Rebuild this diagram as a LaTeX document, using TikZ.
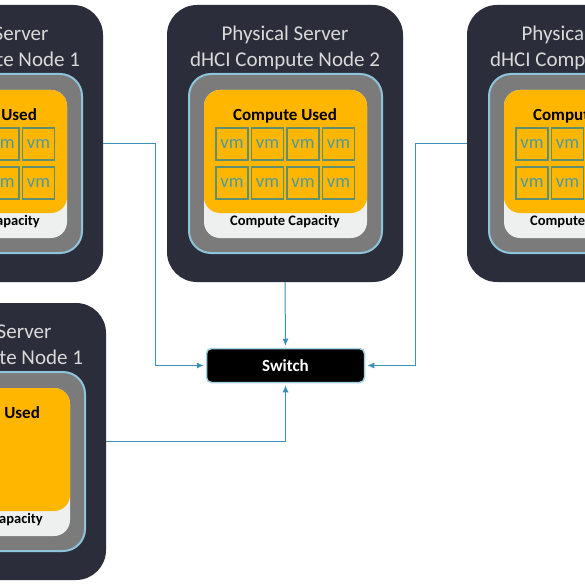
\documentclass[tikz,border=0pt]{standalone}
\usepackage{fontspec}
\setmainfont{Carlito}
\usetikzlibrary{arrows.meta}
\definecolor{srvdark}{HTML}{2B2E3A}
\definecolor{srvtext}{HTML}{D9D9D9}
\definecolor{bandgray}{HTML}{7B7B7B}
\definecolor{bandblue}{HTML}{8EC4DA}
\definecolor{capwhite}{HTML}{EEF0F0}
\definecolor{usedorange}{HTML}{FFB600}
\definecolor{vmgreen}{HTML}{5E8F6E}
\definecolor{vmteal}{HTML}{4A9AA3}
\definecolor{linkblue}{HTML}{3D91B8}
\begin{document}
\begin{tikzpicture}[x=1pt,y=-1pt,
  server/.style={fill=srvdark,rounded corners=30pt,minimum width=236pt,minimum height=277pt,inner sep=0pt},
  srvtitle/.style={text=srvtext,inner sep=0pt,font=\fontsize{21}{25}\selectfont},
  band/.style={fill=bandgray,draw=bandblue,line width=2pt,rounded corners=22pt},
  usedlabel/.style={inner sep=0pt,font=\bfseries\fontsize{17}{20}\selectfont},
  caplabel/.style={inner sep=0pt,font=\bfseries\fontsize{14.5}{17}\selectfont},
  vmbox/.style={draw=vmgreen,line width=1.1pt,minimum size=32pt,inner sep=0pt,text=vmteal,font=\fontsize{18.5}{21}\selectfont},
  switchbox/.style={fill=black,draw=bandblue!80,line width=1.5pt,rounded corners=5pt,minimum width=158pt,minimum height=34pt,text=white,font=\bfseries\fontsize{17}{20}\selectfont},
  link/.style={draw=linkblue,line width=1pt,-{Latex[length=7pt,width=6pt]},shorten >=2pt}]
\useasboundingbox[fill=white] (0,0) rectangle (585,585);
% top row of servers, with vm
\foreach \name/\X/\Y/\num in {srv1/-133/5/1,srv2/167/5/2,srv3/467/5/3}{
\begin{scope}[shift={(\X,\Y)}]
\node[server] (\name) at (118,138.5) {};
\node[srvtitle] (\name-t1) at (118,29.5) {Physical Server};
\node[srvtitle] (\name-t2) at (118,55.5) {dHCI Compute Node \num};
\draw[band] (22,69) rectangle (215,248);
\fill[capwhite,rounded corners=16pt] (37,85) rectangle (200,233);
\fill[usedorange,rounded corners=16pt] (37,85) rectangle (200,208);
\node[usedlabel] (\name-used) at (118,110.5) {Compute Used};
\node[caplabel] (\name-cap) at (118,216.5) {Compute Capacity};
% vm boxes
\foreach \c in {0,...,3}
  \foreach \r in {0,1}
    \node[vmbox] (\name-vm\c\r) at ({65+35.5*\c},{139+39*\r}) {vm};
\end{scope}
}
% bottom server, no vm
\begin{scope}[shift={(-130,303)}]
\node[server] (srv4) at (118,138.5) {};
\node[srvtitle] (srv4-t1) at (118,29.5) {Physical Server};
\node[srvtitle] (srv4-t2) at (118,55.5) {dHCI Compute Node 1};
\draw[band] (22,69) rectangle (215,248);
\fill[capwhite,rounded corners=16pt] (37,85) rectangle (200,233);
\fill[usedorange,rounded corners=16pt] (37,85) rectangle (200,208);
\node[usedlabel] (srv4-used) at (118,110.5) {Compute Used};
\node[caplabel] (srv4-cap) at (118,216.5) {Compute Capacity};
\end{scope}
% switch
\node[switchbox] (switch) at (285.5,365.5) {Switch};
% links
\draw[link] (srv1.east) -- ++(52,0) |- (switch.west);
\draw[link] (srv2.south) -- (switch.north);
\draw[link] (srv3.west) -- ++(-51,0) |- (switch.east);
\draw[link] (srv4.east) -| (switch.south);
\end{tikzpicture}
\end{document}
